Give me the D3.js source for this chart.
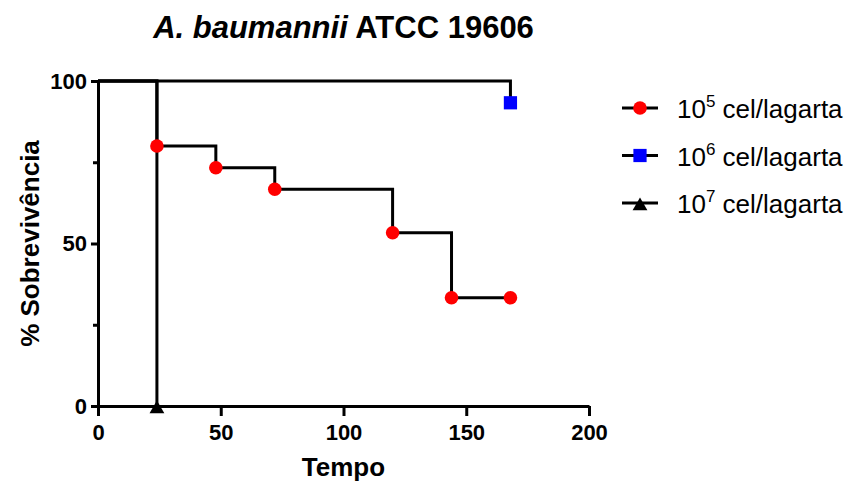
<!DOCTYPE html>
<html>
<head>
<meta charset="utf-8">
<script src="https://cdn.jsdelivr.net/npm/d3@7"></script>
<style>
  body { margin: 0; background: #fff; }
  text { font-family: "Liberation Sans", Arial, sans-serif; }
</style>
</head>
<body>
<div id="chart"></div>
<script>
// survival curves (time in h, % survival)
const s5Time = [0, 24, 48, 72, 120, 144, 168];
const s5Surv = [100, 80, 73.3, 66.7, 53.3, 33.3, 33.3];
const s6Time = [0, 168];
const s6Surv = [100, 93.3];
const s7Time = [0, 24];
const s7Surv = [100, 0];

const seriesNames = ["5", "6", "7"];
const seriesColors = ["#ff0000", "#0000ff", "#000000"];
const xTicks = [0, 50, 100, 150, 200];
const yTicks = [0, 50, 100];
const yMinorTicks = [25, 75];

const width = 849, height = 482;
const margin = { top: 81, right: 260, bottom: 76, left: 98 };

const x = d3.scaleLinear().domain([0, 200]).range([margin.left, width - margin.right]);
const y = d3.scaleLinear().domain([0, 100]).range([height - margin.bottom, margin.top]);

const svg = d3.select("#chart").append("svg")
  .attr("width", width)
  .attr("height", height);

// title
const title = svg.append("text")
  .attr("x", (x(0) + x(200)) / 2)
  .attr("y", 38)
  .attr("text-anchor", "middle")
  .style("font-size", "31px")
  .style("font-weight", "bold");
title.append("tspan").style("font-style", "italic").text("A. baumannii");
title.append("tspan").text(" ATCC 19606");

// axes
svg.append("g")
  .attr("class", "axis")
  .attr("transform", `translate(0,${y(0)})`)
  .call(d3.axisBottom(x).tickValues(xTicks).tickSize(10).tickPadding(8).tickSizeOuter(0));
svg.append("g")
  .attr("class", "axis")
  .attr("transform", `translate(${x(0)},0)`)
  .call(d3.axisLeft(y).tickValues(yTicks).tickSize(7).tickPadding(4).tickSizeOuter(0));
svg.append("g")
  .attr("transform", `translate(${x(0)},0)`)
  .call(d3.axisLeft(y).tickValues(yMinorTicks).tickSize(5).tickFormat("").tickSizeOuter(0))
  .select(".domain").remove();

svg.selectAll(".domain, .tick line")
  .attr("stroke", "#000")
  .attr("stroke-width", 3);
svg.selectAll(".axis").attr("font-size", null).attr("font-family", null);
svg.selectAll(".tick text")
  .attr("fill", "#000")
  .style("font-size", "22px")
  .style("font-weight", "bold");

svg.append("text")
  .attr("x", (x(0) + x(200)) / 2)
  .attr("y", 476)
  .attr("text-anchor", "middle")
  .style("font-size", "26px")
  .style("font-weight", "bold")
  .text("Tempo");

svg.append("text")
  .attr("transform", `translate(39,${(y(0) + y(100)) / 2}) rotate(-90)`)
  .attr("text-anchor", "middle")
  .style("font-size", "26px")
  .style("font-weight", "bold")
  .text("% Sobrevivência");

// step lines
const step = d3.line().x(d => x(d[0])).y(d => y(d[1])).curve(d3.curveStepAfter);
const series = [
  d3.zip(s5Time, s5Surv),
  d3.zip(s6Time, s6Surv),
  d3.zip(s7Time, s7Surv)
];

series.forEach(pts => {
  svg.append("path")
    .attr("d", step(pts))
    .attr("fill", "none")
    .attr("stroke", "#000")
    .attr("stroke-width", 3);
});

// markers
const symbols = [d3.symbolCircle, d3.symbolSquare, d3.symbolTriangle];
const sizes = [145, 175, 95];
const yShift = [0, 0, 3];
series.forEach((pts, i) => {
  svg.selectAll(null)
    .data(pts.slice(1))
    .enter()
    .append("path")
    .attr("d", d3.symbol().type(symbols[i]).size(sizes[i]))
    .attr("transform", d => `translate(${x(d[0])},${y(d[1]) + yShift[i]})`)
    .attr("fill", seriesColors[i]);
});

// legend
const legend = svg.append("g");
seriesNames.forEach((n, i) => {
  const ly = 108 + i * 47.5;
  legend.append("line")
    .attr("x1", 622).attr("x2", 658)
    .attr("y1", ly).attr("y2", ly)
    .attr("stroke", "#000").attr("stroke-width", 3);
  legend.append("path")
    .attr("d", d3.symbol().type(symbols[i]).size(sizes[i]))
    .attr("transform", `translate(640,${ly + yShift[i]})`)
    .attr("fill", seriesColors[i]);
  const t = legend.append("text")
    .attr("x", 677)
    .attr("y", ly + 10)
    .style("font-size", "26px");
  t.append("tspan").text("10");
  t.append("tspan").attr("dy", -11).style("font-size", "17px").text(n);
  t.append("tspan").attr("dy", 11).text(" cel/lagarta");
});
</script>
</body>
</html>
